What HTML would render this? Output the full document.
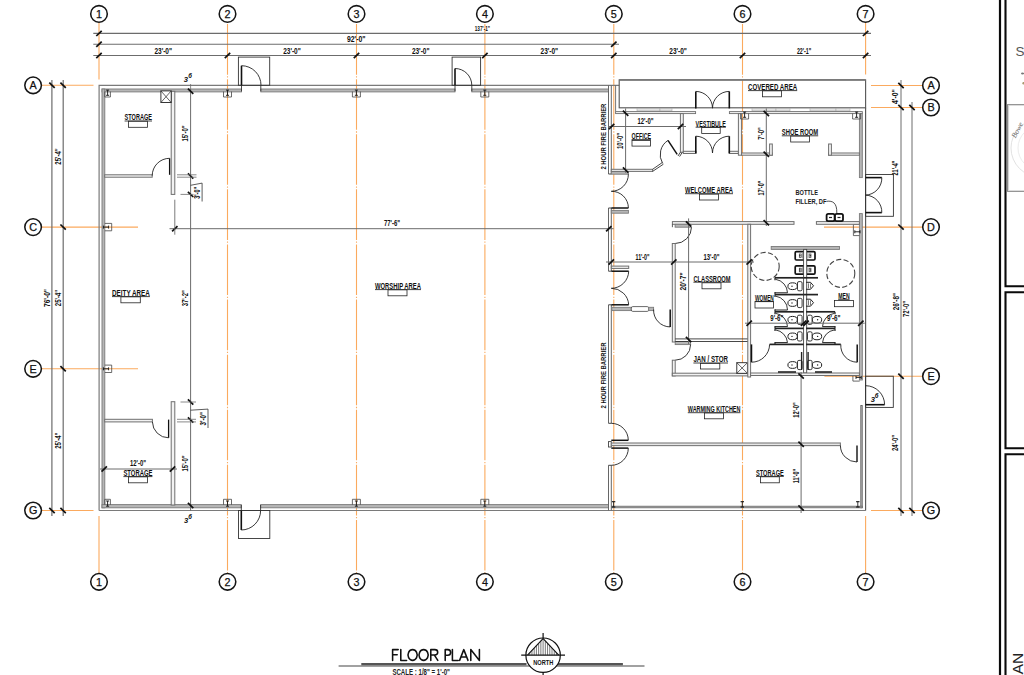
<!DOCTYPE html>
<html><head><meta charset="utf-8"><title>Floor Plan</title>
<style>
html,body{margin:0;padding:0;background:#fff;}
body{width:1024px;height:675px;overflow:hidden;}
svg{display:block;font-family:"Liberation Sans", sans-serif;}
</style></head>
<body>
<svg width="1024" height="675" viewBox="0 0 1024 675">
<rect x="0" y="0" width="1024" height="675" fill="#fff"/>
<line x1="99" y1="22.4" x2="99" y2="79.5" stroke="#fbaa5e" stroke-width="1.1"/>
<line x1="99" y1="516" x2="99" y2="573.3" stroke="#fbaa5e" stroke-width="1.1"/>
<line x1="227.5" y1="22.4" x2="227.5" y2="573.3" stroke="#fbaa5e" stroke-width="1.1" stroke-dasharray="50.6 1.6 1.3 1.6" stroke-dashoffset="53.45"/>
<line x1="356.5" y1="22.4" x2="356.5" y2="573.3" stroke="#fbaa5e" stroke-width="1.1" stroke-dasharray="50.6 1.6 1.3 1.6" stroke-dashoffset="53.45"/>
<line x1="484.9" y1="22.4" x2="484.9" y2="573.3" stroke="#fbaa5e" stroke-width="1.1" stroke-dasharray="50.6 1.6 1.3 1.6" stroke-dashoffset="53.45"/>
<line x1="613.8" y1="22.4" x2="613.8" y2="573.3" stroke="#fbaa5e" stroke-width="1.1" stroke-dasharray="50.6 1.6 1.3 1.6" stroke-dashoffset="53.45"/>
<line x1="742.5" y1="22.4" x2="742.5" y2="573.3" stroke="#fbaa5e" stroke-width="1.1" stroke-dasharray="50.6 1.6 1.3 1.6" stroke-dashoffset="53.45"/>
<line x1="865.6" y1="22.4" x2="865.6" y2="74.5" stroke="#fbaa5e" stroke-width="1.1"/>
<line x1="865.6" y1="516" x2="865.6" y2="573.3" stroke="#fbaa5e" stroke-width="1.1"/>
<line x1="42" y1="85.3" x2="93.5" y2="85.3" stroke="#fbaa5e" stroke-width="1.1"/>
<line x1="42" y1="227.1" x2="138" y2="227.1" stroke="#fbaa5e" stroke-width="1.1"/>
<line x1="42" y1="368.8" x2="138" y2="368.8" stroke="#fbaa5e" stroke-width="1.1"/>
<line x1="42" y1="510.5" x2="93.5" y2="510.5" stroke="#fbaa5e" stroke-width="1.1"/>
<line x1="871" y1="85.5" x2="922.7" y2="85.5" stroke="#fbaa5e" stroke-width="1.1"/>
<line x1="871" y1="107.5" x2="922.7" y2="107.5" stroke="#fbaa5e" stroke-width="1.1"/>
<line x1="824" y1="227.1" x2="922.7" y2="227.1" stroke="#fbaa5e" stroke-width="1.1"/>
<line x1="824.4" y1="376.2" x2="922.7" y2="376.2" stroke="#fbaa5e" stroke-width="1.1"/>
<line x1="871" y1="510.5" x2="922.7" y2="510.5" stroke="#fbaa5e" stroke-width="1.1"/>
<line x1="93.3" y1="33.4" x2="871" y2="33.4" stroke="#6c6c6c" stroke-width="1.1"/>
<line x1="93.3" y1="44.3" x2="619" y2="44.3" stroke="#6c6c6c" stroke-width="1.1"/>
<line x1="93.3" y1="55.5" x2="871" y2="55.5" stroke="#6c6c6c" stroke-width="1.1"/>
<line x1="96.3" y1="36" x2="101.7" y2="30.8" stroke="#111" stroke-width="1.7"/>
<line x1="862.9" y1="36" x2="868.3" y2="30.8" stroke="#111" stroke-width="1.7"/>
<line x1="96.3" y1="46.9" x2="101.7" y2="41.7" stroke="#111" stroke-width="1.7"/>
<line x1="611.1" y1="46.9" x2="616.5" y2="41.7" stroke="#111" stroke-width="1.7"/>
<line x1="96.3" y1="58.1" x2="101.7" y2="52.9" stroke="#111" stroke-width="1.7"/>
<line x1="224.8" y1="58.1" x2="230.2" y2="52.9" stroke="#111" stroke-width="1.7"/>
<line x1="353.8" y1="58.1" x2="359.2" y2="52.9" stroke="#111" stroke-width="1.7"/>
<line x1="482.2" y1="58.1" x2="487.6" y2="52.9" stroke="#111" stroke-width="1.7"/>
<line x1="611.1" y1="58.1" x2="616.5" y2="52.9" stroke="#111" stroke-width="1.7"/>
<line x1="739.8" y1="58.1" x2="745.2" y2="52.9" stroke="#111" stroke-width="1.7"/>
<line x1="862.9" y1="58.1" x2="868.3" y2="52.9" stroke="#111" stroke-width="1.7"/>
<text x="482.4" y="30.7" font-size="7.8" text-anchor="middle" fill="#111" font-weight="bold" textLength="15.4" lengthAdjust="spacingAndGlyphs">137'-1"</text>
<text x="356.3" y="42.4" font-size="8.4" text-anchor="middle" fill="#111" font-weight="bold" textLength="18.6" lengthAdjust="spacingAndGlyphs">92'-0"</text>
<text x="163.25" y="53.5" font-size="8.4" text-anchor="middle" fill="#111" font-weight="bold" textLength="17.6" lengthAdjust="spacingAndGlyphs">23'-0"</text>
<text x="292" y="53.5" font-size="8.4" text-anchor="middle" fill="#111" font-weight="bold" textLength="17.6" lengthAdjust="spacingAndGlyphs">23'-0"</text>
<text x="420.7" y="53.5" font-size="8.4" text-anchor="middle" fill="#111" font-weight="bold" textLength="17.6" lengthAdjust="spacingAndGlyphs">23'-0"</text>
<text x="549.35" y="53.5" font-size="8.4" text-anchor="middle" fill="#111" font-weight="bold" textLength="17.6" lengthAdjust="spacingAndGlyphs">23'-0"</text>
<text x="678.15" y="53.5" font-size="8.4" text-anchor="middle" fill="#111" font-weight="bold" textLength="17.6" lengthAdjust="spacingAndGlyphs">23'-0"</text>
<text x="804.1" y="53.5" font-size="8.4" text-anchor="middle" fill="#111" font-weight="bold" textLength="14.3" lengthAdjust="spacingAndGlyphs">22'-1"</text>
<line x1="51.9" y1="80" x2="51.9" y2="516" stroke="#6c6c6c" stroke-width="1.2"/>
<line x1="63.2" y1="80" x2="63.2" y2="516" stroke="#6c6c6c" stroke-width="1.2"/>
<line x1="49.3" y1="82.7" x2="54.7" y2="87.9" stroke="#111" stroke-width="1.7"/>
<line x1="49.3" y1="507.9" x2="54.7" y2="513.1" stroke="#111" stroke-width="1.7"/>
<line x1="60.4" y1="82.7" x2="65.8" y2="87.9" stroke="#111" stroke-width="1.7"/>
<line x1="60.4" y1="224.5" x2="65.8" y2="229.7" stroke="#111" stroke-width="1.7"/>
<line x1="60.4" y1="366.2" x2="65.8" y2="371.4" stroke="#111" stroke-width="1.7"/>
<line x1="60.4" y1="507.9" x2="65.8" y2="513.1" stroke="#111" stroke-width="1.7"/>
<text x="49.8" y="298" font-size="8.4" text-anchor="middle" fill="#111" font-weight="bold" textLength="18" lengthAdjust="spacingAndGlyphs" transform="rotate(-90 49.8 298)">76'-0"</text>
<text x="60.7" y="156.5" font-size="8.4" text-anchor="middle" fill="#111" font-weight="bold" textLength="16.3" lengthAdjust="spacingAndGlyphs" transform="rotate(-90 60.7 156.5)">25'-4"</text>
<text x="60.7" y="298" font-size="8.4" text-anchor="middle" fill="#111" font-weight="bold" textLength="16.3" lengthAdjust="spacingAndGlyphs" transform="rotate(-90 60.7 298)">25'-4"</text>
<text x="60.7" y="440.7" font-size="8.4" text-anchor="middle" fill="#111" font-weight="bold" textLength="16.3" lengthAdjust="spacingAndGlyphs" transform="rotate(-90 60.7 440.7)">25'-4"</text>
<line x1="901" y1="80" x2="901" y2="516" stroke="#6c6c6c" stroke-width="1"/>
<line x1="912" y1="102" x2="912" y2="516" stroke="#6c6c6c" stroke-width="1"/>
<line x1="898.3" y1="82.9" x2="903.7" y2="88.1" stroke="#111" stroke-width="1.7"/>
<line x1="898.3" y1="104.9" x2="903.7" y2="110.1" stroke="#111" stroke-width="1.7"/>
<line x1="898.3" y1="224.5" x2="903.7" y2="229.7" stroke="#111" stroke-width="1.7"/>
<line x1="898.3" y1="373.6" x2="903.7" y2="378.8" stroke="#111" stroke-width="1.7"/>
<line x1="898.3" y1="507.9" x2="903.7" y2="513.1" stroke="#111" stroke-width="1.7"/>
<line x1="909.3" y1="104.9" x2="914.7" y2="110.1" stroke="#111" stroke-width="1.7"/>
<line x1="909.3" y1="507.9" x2="914.7" y2="513.1" stroke="#111" stroke-width="1.7"/>
<text x="898.3" y="96.6" font-size="8.4" text-anchor="middle" fill="#111" font-weight="bold" textLength="14.8" lengthAdjust="spacingAndGlyphs" transform="rotate(-90 898.3 96.6)">4'-0"</text>
<text x="898.3" y="168" font-size="8.4" text-anchor="middle" fill="#111" font-weight="bold" textLength="15" lengthAdjust="spacingAndGlyphs" transform="rotate(-90 898.3 168)">21'-4"</text>
<text x="898.6" y="301.6" font-size="8.4" text-anchor="middle" fill="#111" font-weight="bold" textLength="17.2" lengthAdjust="spacingAndGlyphs" transform="rotate(-90 898.6 301.6)">26'-8"</text>
<text x="898.3" y="443" font-size="8.4" text-anchor="middle" fill="#111" font-weight="bold" textLength="16" lengthAdjust="spacingAndGlyphs" transform="rotate(-90 898.3 443)">24'-0"</text>
<text x="909.3" y="309" font-size="8.4" text-anchor="middle" fill="#111" font-weight="bold" textLength="16" lengthAdjust="spacingAndGlyphs" transform="rotate(-90 909.3 309)">72'-0"</text>
<circle cx="99" cy="13.9" r="8.3" fill="#fff" stroke="#151515" stroke-width="1.55"/>
<text x="99" y="17.8" font-size="10.8" text-anchor="middle" fill="#111" font-weight="normal" stroke="#111" stroke-width="0.25">1</text>
<circle cx="99" cy="581.8" r="8.3" fill="#fff" stroke="#151515" stroke-width="1.55"/>
<text x="99" y="585.7" font-size="10.8" text-anchor="middle" fill="#111" font-weight="normal" stroke="#111" stroke-width="0.25">1</text>
<circle cx="227.5" cy="13.9" r="8.3" fill="#fff" stroke="#151515" stroke-width="1.55"/>
<text x="227.5" y="17.8" font-size="10.8" text-anchor="middle" fill="#111" font-weight="normal" stroke="#111" stroke-width="0.25">2</text>
<circle cx="227.5" cy="581.8" r="8.3" fill="#fff" stroke="#151515" stroke-width="1.55"/>
<text x="227.5" y="585.7" font-size="10.8" text-anchor="middle" fill="#111" font-weight="normal" stroke="#111" stroke-width="0.25">2</text>
<circle cx="356.5" cy="13.9" r="8.3" fill="#fff" stroke="#151515" stroke-width="1.55"/>
<text x="356.5" y="17.8" font-size="10.8" text-anchor="middle" fill="#111" font-weight="normal" stroke="#111" stroke-width="0.25">3</text>
<circle cx="356.5" cy="581.8" r="8.3" fill="#fff" stroke="#151515" stroke-width="1.55"/>
<text x="356.5" y="585.7" font-size="10.8" text-anchor="middle" fill="#111" font-weight="normal" stroke="#111" stroke-width="0.25">3</text>
<circle cx="484.9" cy="13.9" r="8.3" fill="#fff" stroke="#151515" stroke-width="1.55"/>
<text x="484.9" y="17.8" font-size="10.8" text-anchor="middle" fill="#111" font-weight="normal" stroke="#111" stroke-width="0.25">4</text>
<circle cx="484.9" cy="581.8" r="8.3" fill="#fff" stroke="#151515" stroke-width="1.55"/>
<text x="484.9" y="585.7" font-size="10.8" text-anchor="middle" fill="#111" font-weight="normal" stroke="#111" stroke-width="0.25">4</text>
<circle cx="613.8" cy="13.9" r="8.3" fill="#fff" stroke="#151515" stroke-width="1.55"/>
<text x="613.8" y="17.8" font-size="10.8" text-anchor="middle" fill="#111" font-weight="normal" stroke="#111" stroke-width="0.25">5</text>
<circle cx="613.8" cy="581.8" r="8.3" fill="#fff" stroke="#151515" stroke-width="1.55"/>
<text x="613.8" y="585.7" font-size="10.8" text-anchor="middle" fill="#111" font-weight="normal" stroke="#111" stroke-width="0.25">5</text>
<circle cx="742.5" cy="13.9" r="8.3" fill="#fff" stroke="#151515" stroke-width="1.55"/>
<text x="742.5" y="17.8" font-size="10.8" text-anchor="middle" fill="#111" font-weight="normal" stroke="#111" stroke-width="0.25">6</text>
<circle cx="742.5" cy="581.8" r="8.3" fill="#fff" stroke="#151515" stroke-width="1.55"/>
<text x="742.5" y="585.7" font-size="10.8" text-anchor="middle" fill="#111" font-weight="normal" stroke="#111" stroke-width="0.25">6</text>
<circle cx="865.6" cy="13.9" r="8.3" fill="#fff" stroke="#151515" stroke-width="1.55"/>
<text x="865.6" y="17.8" font-size="10.8" text-anchor="middle" fill="#111" font-weight="normal" stroke="#111" stroke-width="0.25">7</text>
<circle cx="865.6" cy="581.8" r="8.3" fill="#fff" stroke="#151515" stroke-width="1.55"/>
<text x="865.6" y="585.7" font-size="10.8" text-anchor="middle" fill="#111" font-weight="normal" stroke="#111" stroke-width="0.25">7</text>
<circle cx="33.1" cy="85.3" r="8.3" fill="#fff" stroke="#151515" stroke-width="1.55"/>
<text x="33.1" y="89.2" font-size="10.8" text-anchor="middle" fill="#111" font-weight="normal" stroke="#111" stroke-width="0.25">A</text>
<circle cx="33.1" cy="227.1" r="8.3" fill="#fff" stroke="#151515" stroke-width="1.55"/>
<text x="33.1" y="231" font-size="10.8" text-anchor="middle" fill="#111" font-weight="normal" stroke="#111" stroke-width="0.25">C</text>
<circle cx="33.1" cy="368.8" r="8.3" fill="#fff" stroke="#151515" stroke-width="1.55"/>
<text x="33.1" y="372.7" font-size="10.8" text-anchor="middle" fill="#111" font-weight="normal" stroke="#111" stroke-width="0.25">E</text>
<circle cx="33.1" cy="510.5" r="8.3" fill="#fff" stroke="#151515" stroke-width="1.55"/>
<text x="33.1" y="514.4" font-size="10.8" text-anchor="middle" fill="#111" font-weight="normal" stroke="#111" stroke-width="0.25">G</text>
<circle cx="931" cy="85.5" r="8.3" fill="#fff" stroke="#151515" stroke-width="1.55"/>
<text x="931" y="89.4" font-size="10.8" text-anchor="middle" fill="#111" font-weight="normal" stroke="#111" stroke-width="0.25">A</text>
<circle cx="931" cy="107.5" r="8.3" fill="#fff" stroke="#151515" stroke-width="1.55"/>
<text x="931" y="111.4" font-size="10.8" text-anchor="middle" fill="#111" font-weight="normal" stroke="#111" stroke-width="0.25">B</text>
<circle cx="931" cy="227.1" r="8.3" fill="#fff" stroke="#151515" stroke-width="1.55"/>
<text x="931" y="231" font-size="10.8" text-anchor="middle" fill="#111" font-weight="normal" stroke="#111" stroke-width="0.25">D</text>
<circle cx="931" cy="376.2" r="8.3" fill="#fff" stroke="#151515" stroke-width="1.55"/>
<text x="931" y="380.1" font-size="10.8" text-anchor="middle" fill="#111" font-weight="normal" stroke="#111" stroke-width="0.25">E</text>
<circle cx="931" cy="510.5" r="8.3" fill="#fff" stroke="#151515" stroke-width="1.55"/>
<text x="931" y="514.4" font-size="10.8" text-anchor="middle" fill="#111" font-weight="normal" stroke="#111" stroke-width="0.25">G</text>
<polyline points="99.1,510.5 99.1,85.35 619.2,85.35" fill="none" stroke="#7a7a7a" stroke-width="1.2"/>
<line x1="99.1" y1="510.5" x2="865.6" y2="510.5" stroke="#7a7a7a" stroke-width="1.2"/>
<rect x="102" y="89" width="139.5" height="2.9" fill="#b6b6b6" stroke="#7a7a7a" stroke-width="0.9"/>
<rect x="260.8" y="89" width="194.2" height="2.9" fill="#b6b6b6" stroke="#7a7a7a" stroke-width="0.9"/>
<rect x="471.8" y="89" width="136.7" height="2.9" fill="#b6b6b6" stroke="#7a7a7a" stroke-width="0.9"/>
<rect x="102" y="89" width="2.8" height="418.8" fill="#b6b6b6" stroke="#7a7a7a" stroke-width="0.9"/>
<rect x="102" y="504.6" width="139.3" height="3.2" fill="#b6b6b6" stroke="#7a7a7a" stroke-width="0.9"/>
<rect x="260.6" y="504.6" width="347.9" height="3.2" fill="#b6b6b6" stroke="#7a7a7a" stroke-width="0.9"/>
<line x1="241.5" y1="85.3" x2="241.5" y2="91.3" stroke="#333" stroke-width="0.9"/>
<line x1="260.8" y1="85.3" x2="260.8" y2="91.3" stroke="#333" stroke-width="0.9"/>
<line x1="455" y1="85.3" x2="455" y2="91.3" stroke="#333" stroke-width="0.9"/>
<line x1="471.8" y1="85.3" x2="471.8" y2="91.3" stroke="#333" stroke-width="0.9"/>
<line x1="241.3" y1="505" x2="241.3" y2="510.5" stroke="#333" stroke-width="0.9"/>
<line x1="260.6" y1="505" x2="260.6" y2="510.5" stroke="#333" stroke-width="0.9"/>
<rect x="238.4" y="57.1" width="31.3" height="28.2" fill="none" stroke="#333" stroke-width="0.9"/>
<line x1="241.5" y1="85.3" x2="241.5" y2="65.7" stroke="#111" stroke-width="1.6"/>
<path d="M241.5,65.7 A19.5,19.5 0 0 1 261,85.3" fill="none" stroke="#222" stroke-width="0.9"/>
<rect x="452.1" y="57.1" width="28.5" height="28.2" fill="none" stroke="#333" stroke-width="0.9"/>
<line x1="455" y1="85.3" x2="455" y2="68.5" stroke="#111" stroke-width="1.6"/>
<path d="M455,68.5 A16.8,16.8 0 0 1 471.8,85.3" fill="none" stroke="#222" stroke-width="0.9"/>
<rect x="238.5" y="510.5" width="31.3" height="28" fill="none" stroke="#333" stroke-width="0.9"/>
<line x1="241.3" y1="510.5" x2="241.3" y2="530" stroke="#111" stroke-width="1.6"/>
<path d="M241.3,530 A19.4,19.4 0 0 0 260.6,510.5" fill="none" stroke="#222" stroke-width="0.9"/>
<polyline points="104.8,91.6 104.8,97 110.4,97 110.4,91.6" fill="none" stroke="#444" stroke-width="0.8"/>
<line x1="106.1" y1="90.1" x2="109.1" y2="90.1" stroke="#111" stroke-width="0.9"/>
<line x1="107.6" y1="90.1" x2="107.6" y2="95.3" stroke="#111" stroke-width="0.9"/>
<line x1="106.1" y1="95.3" x2="109.1" y2="95.3" stroke="#111" stroke-width="0.9"/>
<polyline points="104.8,504.7 104.8,499.3 110.4,499.3 110.4,504.7" fill="none" stroke="#444" stroke-width="0.8"/>
<line x1="106.1" y1="501" x2="109.1" y2="501" stroke="#111" stroke-width="0.9"/>
<line x1="107.6" y1="501" x2="107.6" y2="506.2" stroke="#111" stroke-width="0.9"/>
<line x1="106.1" y1="506.2" x2="109.1" y2="506.2" stroke="#111" stroke-width="0.9"/>
<polyline points="223.5,91.6 223.5,97 231.5,97 231.5,91.6" fill="none" stroke="#444" stroke-width="0.8"/>
<line x1="226" y1="90.1" x2="229" y2="90.1" stroke="#111" stroke-width="0.9"/>
<line x1="227.5" y1="90.1" x2="227.5" y2="95.3" stroke="#111" stroke-width="0.9"/>
<line x1="226" y1="95.3" x2="229" y2="95.3" stroke="#111" stroke-width="0.9"/>
<polyline points="352.4,91.6 352.4,97 360.4,97 360.4,91.6" fill="none" stroke="#444" stroke-width="0.8"/>
<line x1="354.9" y1="90.1" x2="357.9" y2="90.1" stroke="#111" stroke-width="0.9"/>
<line x1="356.4" y1="90.1" x2="356.4" y2="95.3" stroke="#111" stroke-width="0.9"/>
<line x1="354.9" y1="95.3" x2="357.9" y2="95.3" stroke="#111" stroke-width="0.9"/>
<polyline points="480.8,91.6 480.8,97 488.8,97 488.8,91.6" fill="none" stroke="#444" stroke-width="0.8"/>
<line x1="483.3" y1="90.1" x2="486.3" y2="90.1" stroke="#111" stroke-width="0.9"/>
<line x1="484.8" y1="90.1" x2="484.8" y2="95.3" stroke="#111" stroke-width="0.9"/>
<line x1="483.3" y1="95.3" x2="486.3" y2="95.3" stroke="#111" stroke-width="0.9"/>
<polyline points="223.5,504.7 223.5,499.3 231.5,499.3 231.5,504.7" fill="none" stroke="#444" stroke-width="0.8"/>
<line x1="226" y1="501" x2="229" y2="501" stroke="#111" stroke-width="0.9"/>
<line x1="227.5" y1="501" x2="227.5" y2="506.2" stroke="#111" stroke-width="0.9"/>
<line x1="226" y1="506.2" x2="229" y2="506.2" stroke="#111" stroke-width="0.9"/>
<polyline points="352.4,504.7 352.4,499.3 360.4,499.3 360.4,504.7" fill="none" stroke="#444" stroke-width="0.8"/>
<line x1="354.9" y1="501" x2="357.9" y2="501" stroke="#111" stroke-width="0.9"/>
<line x1="356.4" y1="501" x2="356.4" y2="506.2" stroke="#111" stroke-width="0.9"/>
<line x1="354.9" y1="506.2" x2="357.9" y2="506.2" stroke="#111" stroke-width="0.9"/>
<polyline points="480.8,504.7 480.8,499.3 488.8,499.3 488.8,504.7" fill="none" stroke="#444" stroke-width="0.8"/>
<line x1="483.3" y1="501" x2="486.3" y2="501" stroke="#111" stroke-width="0.9"/>
<line x1="484.8" y1="501" x2="484.8" y2="506.2" stroke="#111" stroke-width="0.9"/>
<line x1="483.3" y1="506.2" x2="486.3" y2="506.2" stroke="#111" stroke-width="0.9"/>
<polyline points="104.9,223.4 111.7,223.4 111.7,230.8 104.9,230.8" fill="none" stroke="#444" stroke-width="0.8"/>
<line x1="103.4" y1="225.6" x2="103.4" y2="228.6" stroke="#111" stroke-width="0.9"/>
<line x1="103.4" y1="227.1" x2="108.6" y2="227.1" stroke="#111" stroke-width="0.9"/>
<line x1="108.6" y1="225.6" x2="108.6" y2="228.6" stroke="#111" stroke-width="0.9"/>
<polyline points="104.9,365.1 111.7,365.1 111.7,372.5 104.9,372.5" fill="none" stroke="#444" stroke-width="0.8"/>
<line x1="103.4" y1="367.3" x2="103.4" y2="370.3" stroke="#111" stroke-width="0.9"/>
<line x1="103.4" y1="368.8" x2="108.6" y2="368.8" stroke="#111" stroke-width="0.9"/>
<line x1="108.6" y1="367.3" x2="108.6" y2="370.3" stroke="#111" stroke-width="0.9"/>
<rect x="171.2" y="91.3" width="3.6" height="103.1" fill="#f2f2f2" stroke="#6e6e6e" stroke-width="1"/>
<rect x="104.7" y="174.8" width="47.5" height="2.4" fill="#f2f2f2" stroke="#6e6e6e" stroke-width="1"/>
<line x1="169.6" y1="158.3" x2="169.6" y2="174.8" stroke="#111" stroke-width="1.3"/>
<path d="M152.2,175.6 A17.4,17.4 0 0 1 169.6,158.3" fill="none" stroke="#222" stroke-width="0.9"/>
<rect x="160.9" y="90.9" width="10.3" height="11.6" fill="#fff" stroke="#222" stroke-width="0.9"/>
<line x1="160.9" y1="90.9" x2="171.2" y2="102.5" stroke="#222" stroke-width="0.7"/>
<line x1="160.9" y1="102.5" x2="171.2" y2="90.9" stroke="#222" stroke-width="0.7"/>
<rect x="171.2" y="401.7" width="3.6" height="103.3" fill="#f2f2f2" stroke="#6e6e6e" stroke-width="1"/>
<rect x="104.7" y="419.3" width="47.7" height="2.6" fill="#f2f2f2" stroke="#6e6e6e" stroke-width="1"/>
<line x1="168.6" y1="419.6" x2="168.6" y2="437.8" stroke="#111" stroke-width="1.3"/>
<path d="M152.4,421.9 A16.2,16.2 0 0 0 168.6,437.8" fill="none" stroke="#222" stroke-width="0.9"/>
<line x1="608.5" y1="85.35" x2="608.5" y2="174" stroke="#666" stroke-width="1"/>
<line x1="608.5" y1="208" x2="608.5" y2="271.2" stroke="#666" stroke-width="1"/>
<line x1="608.5" y1="304.8" x2="608.5" y2="423.3" stroke="#666" stroke-width="1"/>
<line x1="608.5" y1="465.3" x2="608.5" y2="510.5" stroke="#666" stroke-width="1"/>
<line x1="611.3" y1="85.35" x2="611.3" y2="174" stroke="#666" stroke-width="1"/>
<line x1="611.3" y1="208" x2="611.3" y2="271.2" stroke="#666" stroke-width="1"/>
<line x1="611.3" y1="304.8" x2="611.3" y2="423.3" stroke="#666" stroke-width="1"/>
<line x1="611.3" y1="465.3" x2="611.3" y2="510.5" stroke="#666" stroke-width="1"/>
<line x1="608.5" y1="174" x2="611.3" y2="174" stroke="#444" stroke-width="1"/>
<line x1="608.5" y1="208" x2="611.3" y2="208" stroke="#444" stroke-width="1"/>
<line x1="608.5" y1="271.2" x2="611.3" y2="271.2" stroke="#444" stroke-width="1"/>
<line x1="608.5" y1="304.8" x2="611.3" y2="304.8" stroke="#444" stroke-width="1"/>
<line x1="608.5" y1="423.3" x2="611.3" y2="423.3" stroke="#444" stroke-width="1"/>
<line x1="608.5" y1="465.3" x2="611.3" y2="465.3" stroke="#444" stroke-width="1"/>
<line x1="615.6" y1="85.35" x2="615.6" y2="111.7" stroke="#666" stroke-width="0.9"/>
<rect x="611.3" y="171.6" width="17.1" height="2.6" fill="#b6b6b6" stroke="#7a7a7a" stroke-width="0.9"/>
<path d="M628.4,174.2 A17.1,17.1 0 0 1 611.3,191.3" fill="none" stroke="#222" stroke-width="0.9"/>
<line x1="611.3" y1="208" x2="628.4" y2="208" stroke="#111" stroke-width="1.5"/>
<path d="M628.4,208 A16.7,16.7 0 0 0 611.3,191.3" fill="none" stroke="#222" stroke-width="0.9"/>
<rect x="611.3" y="210.4" width="17.1" height="2.8" fill="#b6b6b6" stroke="#7a7a7a" stroke-width="0.9"/>
<rect x="611.3" y="266.1" width="17.4" height="2.3" fill="#f2f2f2" stroke="#6e6e6e" stroke-width="1"/>
<line x1="611.3" y1="271.2" x2="628.7" y2="271.2" stroke="#111" stroke-width="1.5"/>
<path d="M628.7,271.2 A17.4,17.4 0 0 1 611.3,288.3" fill="none" stroke="#222" stroke-width="0.9"/>
<line x1="611.3" y1="304.8" x2="628.7" y2="304.8" stroke="#111" stroke-width="1.5"/>
<path d="M628.7,304.8 A17.4,17.4 0 0 0 611.3,288.3" fill="none" stroke="#222" stroke-width="0.9"/>
<path d="M611.3,423.3 A17,17 0 0 1 628.3,440.3" fill="none" stroke="#222" stroke-width="0.9"/>
<line x1="611.3" y1="440.3" x2="628.3" y2="440.3" stroke="#111" stroke-width="1.5"/>
<line x1="611.3" y1="448.1" x2="628.3" y2="448.1" stroke="#111" stroke-width="1.5"/>
<path d="M628.3,448.1 A17.1,17.1 0 0 1 611.3,465.3" fill="none" stroke="#222" stroke-width="0.9"/>
<rect x="608.5" y="441.6" width="2.8" height="5.4" fill="#fff" stroke="#444" stroke-width="0.9"/>
<rect x="619.2" y="79.9" width="246.4" height="27.9" fill="none" stroke="#5a5a5a" stroke-width="1.15"/>
<line x1="619.2" y1="79.9" x2="865.6" y2="79.9" stroke="#7a7a7a" stroke-width="1.7"/>
<line x1="865.6" y1="107.7" x2="865.6" y2="510.5" stroke="#555" stroke-width="1.15"/>
<rect x="637" y="108.5" width="23" height="2.4" fill="#e4e4e4" stroke="#aaa" stroke-width="0.6"/>
<rect x="660" y="108.5" width="12" height="2.4" fill="#e4e4e4" stroke="#aaa" stroke-width="0.6"/>
<rect x="752" y="108.5" width="24" height="2.4" fill="#e4e4e4" stroke="#aaa" stroke-width="0.6"/>
<rect x="776" y="108.5" width="14" height="2.4" fill="#e4e4e4" stroke="#aaa" stroke-width="0.6"/>
<rect x="810" y="108.5" width="26" height="2.4" fill="#e4e4e4" stroke="#aaa" stroke-width="0.6"/>
<rect x="836" y="108.5" width="14" height="2.4" fill="#e4e4e4" stroke="#aaa" stroke-width="0.6"/>
<rect x="615.6" y="111.6" width="80" height="2" fill="#f2f2f2" stroke="#6e6e6e" stroke-width="0.9"/>
<rect x="729.4" y="111.6" width="132.9" height="2" fill="#f2f2f2" stroke="#6e6e6e" stroke-width="0.9"/>
<rect x="859.4" y="113.6" width="2.9" height="64" fill="#b6b6b6" stroke="#7a7a7a" stroke-width="0.9"/>
<rect x="859.4" y="213.6" width="2.9" height="166.4" fill="#b6b6b6" stroke="#7a7a7a" stroke-width="0.9"/>
<rect x="860.7" y="405.5" width="1.7" height="102.4" fill="#999" stroke="#666" stroke-width="0.6"/>
<rect x="611.3" y="506.1" width="251" height="1.8" fill="#999" stroke="#666" stroke-width="0.6"/>
<rect x="680.4" y="113.6" width="2.9" height="38.6" fill="#f2f2f2" stroke="#6e6e6e" stroke-width="1"/>
<line x1="680.4" y1="152.2" x2="678" y2="156" stroke="#333" stroke-width="0.9"/>
<line x1="682.3" y1="152.2" x2="679.6" y2="156.6" stroke="#333" stroke-width="0.9"/>
<rect x="611.3" y="169.3" width="41.3" height="2.1" fill="#f2f2f2" stroke="#6e6e6e" stroke-width="1"/>
<polyline points="652.6,169.3 662.2,162.6" fill="none" stroke="#333" stroke-width="0.9"/>
<polyline points="652.6,171.4 663.4,164.2" fill="none" stroke="#333" stroke-width="0.9"/>
<line x1="668" y1="140.4" x2="677.2" y2="154.4" stroke="#111" stroke-width="1.5"/>
<path d="M668,140.4 A17,17 0 0 0 662.6,163.4" fill="none" stroke="#222" stroke-width="0.9"/>
<rect x="683.3" y="151.3" width="12.7" height="2.2" fill="#f2f2f2" stroke="#6e6e6e" stroke-width="1"/>
<rect x="729.3" y="151.3" width="9.1" height="2.2" fill="#f2f2f2" stroke="#6e6e6e" stroke-width="1"/>
<rect x="738.4" y="113.6" width="3.2" height="41.6" fill="#f2f2f2" stroke="#6e6e6e" stroke-width="1"/>
<line x1="695.8" y1="108.4" x2="695.8" y2="91.4" stroke="#111" stroke-width="1.6"/>
<line x1="695.8" y1="153.3" x2="695.8" y2="136.2" stroke="#111" stroke-width="1.6"/>
<line x1="729.3" y1="108.4" x2="729.3" y2="91.4" stroke="#111" stroke-width="1.6"/>
<line x1="729.3" y1="153.3" x2="729.3" y2="136.2" stroke="#111" stroke-width="1.6"/>
<path d="M695.8,91.4 A16.8,16.8 0 0 1 712.5,108.2" fill="none" stroke="#222" stroke-width="0.9"/>
<path d="M729.3,91.4 A16.8,16.8 0 0 0 712.5,108.2" fill="none" stroke="#222" stroke-width="0.9"/>
<path d="M695.8,136.2 A16.8,16.8 0 0 1 712.5,153" fill="none" stroke="#222" stroke-width="0.9"/>
<path d="M729.3,136.2 A16.8,16.8 0 0 0 712.5,153" fill="none" stroke="#222" stroke-width="0.9"/>
<rect x="741.6" y="153" width="30.7" height="2.2" fill="#f2f2f2" stroke="#6e6e6e" stroke-width="1"/>
<rect x="769.6" y="144" width="2.7" height="11.2" fill="#f2f2f2" stroke="#6e6e6e" stroke-width="1"/>
<rect x="828.6" y="153" width="30.8" height="2.2" fill="#f2f2f2" stroke="#6e6e6e" stroke-width="1"/>
<rect x="828.6" y="144" width="2.8" height="11.2" fill="#f2f2f2" stroke="#6e6e6e" stroke-width="1"/>
<polyline points="740.6,113.6 740.6,119 748.6,119 748.6,113.6" fill="none" stroke="#444" stroke-width="0.8"/>
<line x1="743.1" y1="112.1" x2="746.1" y2="112.1" stroke="#111" stroke-width="0.9"/>
<line x1="744.6" y1="112.1" x2="744.6" y2="117.3" stroke="#111" stroke-width="0.9"/>
<line x1="743.1" y1="117.3" x2="746.1" y2="117.3" stroke="#111" stroke-width="0.9"/>
<polyline points="852.6,113.6 852.6,119 860.6,119 860.6,113.6" fill="none" stroke="#444" stroke-width="0.8"/>
<line x1="855.1" y1="112.1" x2="858.1" y2="112.1" stroke="#111" stroke-width="0.9"/>
<line x1="856.6" y1="112.1" x2="856.6" y2="117.3" stroke="#111" stroke-width="0.9"/>
<line x1="855.1" y1="117.3" x2="858.1" y2="117.3" stroke="#111" stroke-width="0.9"/>
<polyline points="859.4,224.3 853.4,224.3 853.4,235.6 859.4,235.6" fill="none" stroke="#444" stroke-width="0.8"/>
<line x1="854.8" y1="230.3" x2="854.8" y2="233.3" stroke="#111" stroke-width="0.9"/>
<line x1="854.8" y1="231.8" x2="860" y2="231.8" stroke="#111" stroke-width="0.9"/>
<line x1="860" y1="230.3" x2="860" y2="233.3" stroke="#111" stroke-width="0.9"/>
<polyline points="859.7,373.7 852.9,373.7 852.9,381.1 859.7,381.1" fill="none" stroke="#444" stroke-width="0.8"/>
<line x1="856" y1="375.9" x2="856" y2="378.9" stroke="#111" stroke-width="0.9"/>
<line x1="856" y1="377.4" x2="861.2" y2="377.4" stroke="#111" stroke-width="0.9"/>
<line x1="861.2" y1="375.9" x2="861.2" y2="378.9" stroke="#111" stroke-width="0.9"/>
<rect x="672.4" y="221.6" width="121.6" height="2.7" fill="#f2f2f2" stroke="#6e6e6e" stroke-width="1"/>
<rect x="675.1" y="224.3" width="15.6" height="2.9" fill="#b6b6b6" stroke="#7a7a7a" stroke-width="0.9"/>
<line x1="672.4" y1="224.3" x2="672.4" y2="227.2" stroke="#333" stroke-width="0.8"/>
<path d="M691.5,227.2 A16.4,16.4 0 0 1 675.1,243.5" fill="none" stroke="#222" stroke-width="0.9"/>
<rect x="816.4" y="221.6" width="43" height="2.7" fill="#f2f2f2" stroke="#6e6e6e" stroke-width="1"/>
<rect x="672.3" y="243.5" width="2.9" height="98.5" fill="#f2f2f2" stroke="#6e6e6e" stroke-width="1"/>
<line x1="675.2" y1="338.9" x2="748" y2="338.9" stroke="#333" stroke-width="0.9"/>
<rect x="675.2" y="341.5" width="15.4" height="3.1" fill="#b6b6b6" stroke="#7a7a7a" stroke-width="0.9"/>
<line x1="675.2" y1="341.5" x2="748" y2="341.5" stroke="#333" stroke-width="0.9"/>
<path d="M690.6,344.6 A15.6,15.6 0 0 1 675.2,360.2" fill="none" stroke="#222" stroke-width="0.9"/>
<rect x="672.3" y="360.2" width="2.9" height="15.7" fill="#f2f2f2" stroke="#6e6e6e" stroke-width="1"/>
<rect x="672.3" y="373.2" width="75.7" height="2.7" fill="#f2f2f2" stroke="#6e6e6e" stroke-width="1"/>
<rect x="736.8" y="362.7" width="10.6" height="10.6" fill="#fff" stroke="#222" stroke-width="0.9"/>
<line x1="736.8" y1="362.7" x2="747.4" y2="373.3" stroke="#222" stroke-width="0.7"/>
<line x1="736.8" y1="373.3" x2="747.4" y2="362.7" stroke="#222" stroke-width="0.7"/>
<rect x="611.8" y="307.3" width="19.5" height="3.3" fill="#b6b6b6" stroke="#7a7a7a" stroke-width="0.9"/>
<rect x="631.3" y="306.6" width="17.4" height="4.8" fill="#fff" stroke="#444" stroke-width="0.8" rx="1.5"/>
<rect x="648.7" y="307.3" width="4.9" height="3.3" fill="#b6b6b6" stroke="#7a7a7a" stroke-width="0.9"/>
<path d="M653.6,309.5 A16.6,16.6 0 0 0 670.2,326.9" fill="none" stroke="#222" stroke-width="0.9"/>
<line x1="670.2" y1="309.5" x2="670.2" y2="326.9" stroke="#111" stroke-width="1.5"/>
<rect x="747.8" y="224.3" width="2.8" height="152.7" fill="#f2f2f2" stroke="#6e6e6e" stroke-width="1"/>
<rect x="771.2" y="246.5" width="68.3" height="2.9" fill="#b6b6b6" stroke="#7a7a7a" stroke-width="0.9"/>
<rect x="803.6" y="249.4" width="3.1" height="123.6" fill="#fff" stroke="#444" stroke-width="0.9"/>
<rect x="750.6" y="373" width="108.8" height="2.5" fill="#f2f2f2" stroke="#6e6e6e" stroke-width="1"/>
<rect x="611.3" y="443" width="229.1" height="2.6" fill="#e6e6e6" stroke="#7a7a7a" stroke-width="1.1"/>
<line x1="857" y1="445.6" x2="857" y2="462" stroke="#111" stroke-width="1.4"/>
<path d="M840.4,445.6 A16.6,16.6 0 0 0 857,462" fill="none" stroke="#222" stroke-width="0.9"/>
<rect x="865.6" y="174.5" width="27.8" height="41.8" fill="none" stroke="#333" stroke-width="0.9"/>
<line x1="865.6" y1="177.6" x2="881.8" y2="177.6" stroke="#111" stroke-width="1.6"/>
<line x1="865.6" y1="212.6" x2="881.8" y2="212.6" stroke="#111" stroke-width="1.6"/>
<path d="M881.8,177.6 A16.9,16.9 0 0 1 865.6,195.1" fill="none" stroke="#222" stroke-width="0.9"/>
<path d="M881.8,212.6 A16.9,16.9 0 0 0 865.6,195.1" fill="none" stroke="#222" stroke-width="0.9"/>
<rect x="865.6" y="376.2" width="27.7" height="31.2" fill="none" stroke="#333" stroke-width="0.9"/>
<line x1="865.6" y1="404.7" x2="884.6" y2="404.7" stroke="#111" stroke-width="1.6"/>
<path d="M865.6,385.7 A19,19 0 0 1 884.6,404.7" fill="none" stroke="#222" stroke-width="0.9"/>
<line x1="611.9" y1="501.7" x2="615.3" y2="501.7" stroke="#111" stroke-width="1.1"/>
<line x1="613.6" y1="501.7" x2="613.6" y2="507" stroke="#222" stroke-width="0.9"/>
<line x1="611.9" y1="507" x2="615.3" y2="507" stroke="#111" stroke-width="1.1"/>
<line x1="740.6" y1="501.7" x2="744" y2="501.7" stroke="#111" stroke-width="1.1"/>
<line x1="742.3" y1="501.7" x2="742.3" y2="507" stroke="#222" stroke-width="0.9"/>
<line x1="740.6" y1="507" x2="744" y2="507" stroke="#111" stroke-width="1.1"/>
<line x1="856.1" y1="501.7" x2="859.5" y2="501.7" stroke="#111" stroke-width="1.1"/>
<line x1="857.8" y1="501.7" x2="857.8" y2="507" stroke="#222" stroke-width="0.9"/>
<line x1="856.1" y1="507" x2="859.5" y2="507" stroke="#111" stroke-width="1.1"/>
<ellipse cx="792.6" cy="286.2" rx="4.7" ry="3.4" fill="#fff" stroke="#222" stroke-width="1.0"/>
<circle cx="792" cy="286.2" r="0.7" fill="#222"/>
<rect x="797.5" y="281.6" width="4.6" height="9.2" fill="#fff" stroke="#222" stroke-width="0.9" rx="1.4"/>
<ellipse cx="792.6" cy="303" rx="4.7" ry="3.4" fill="#fff" stroke="#222" stroke-width="1.0"/>
<circle cx="792" cy="303" r="0.7" fill="#222"/>
<rect x="797.5" y="298.4" width="4.6" height="9.2" fill="#fff" stroke="#222" stroke-width="0.9" rx="1.4"/>
<ellipse cx="792.6" cy="319.8" rx="4.7" ry="3.4" fill="#fff" stroke="#222" stroke-width="1.0"/>
<circle cx="792" cy="319.8" r="0.7" fill="#222"/>
<rect x="797.5" y="315.2" width="4.6" height="9.2" fill="#fff" stroke="#222" stroke-width="0.9" rx="1.4"/>
<ellipse cx="792.6" cy="336.4" rx="4.7" ry="3.4" fill="#fff" stroke="#222" stroke-width="1.0"/>
<circle cx="792" cy="336.4" r="0.7" fill="#222"/>
<rect x="797.5" y="331.8" width="4.6" height="9.2" fill="#fff" stroke="#222" stroke-width="0.9" rx="1.4"/>
<ellipse cx="792.6" cy="365" rx="4.7" ry="3.4" fill="#fff" stroke="#222" stroke-width="1.0"/>
<circle cx="792" cy="365" r="0.7" fill="#222"/>
<rect x="797.5" y="360.4" width="4.6" height="9.2" fill="#fff" stroke="#222" stroke-width="0.9" rx="1.4"/>
<ellipse cx="817" cy="319.8" rx="4.7" ry="3.4" fill="#fff" stroke="#222" stroke-width="1.0"/>
<circle cx="817.6" cy="319.8" r="0.7" fill="#222"/>
<rect x="807.5" y="315.2" width="4.6" height="9.2" fill="#fff" stroke="#222" stroke-width="0.9" rx="1.4"/>
<ellipse cx="817" cy="336.4" rx="4.7" ry="3.4" fill="#fff" stroke="#222" stroke-width="1.0"/>
<circle cx="817.6" cy="336.4" r="0.7" fill="#222"/>
<rect x="807.5" y="331.8" width="4.6" height="9.2" fill="#fff" stroke="#222" stroke-width="0.9" rx="1.4"/>
<ellipse cx="817" cy="365" rx="4.7" ry="3.4" fill="#fff" stroke="#222" stroke-width="1.0"/>
<circle cx="817.6" cy="365" r="0.7" fill="#222"/>
<rect x="807.5" y="360.4" width="4.6" height="9.2" fill="#fff" stroke="#222" stroke-width="0.9" rx="1.4"/>
<line x1="775" y1="277.8" x2="803.6" y2="277.8" stroke="#222" stroke-width="1.7"/>
<line x1="775" y1="294.6" x2="803.6" y2="294.6" stroke="#222" stroke-width="1.7"/>
<line x1="775" y1="311.8" x2="803.6" y2="311.8" stroke="#222" stroke-width="1.7"/>
<line x1="775" y1="328.4" x2="803.6" y2="328.4" stroke="#222" stroke-width="1.7"/>
<line x1="775" y1="344.4" x2="803.6" y2="344.4" stroke="#222" stroke-width="1.7"/>
<line x1="769.6" y1="344.4" x2="775" y2="344.4" stroke="#222" stroke-width="1.7"/>
<line x1="806.1" y1="311.8" x2="835" y2="311.8" stroke="#222" stroke-width="1.7"/>
<line x1="806.1" y1="328.4" x2="835" y2="328.4" stroke="#222" stroke-width="1.7"/>
<line x1="806.1" y1="344.4" x2="835" y2="344.4" stroke="#222" stroke-width="1.7"/>
<line x1="835" y1="344.4" x2="840.8" y2="344.4" stroke="#222" stroke-width="1.7"/>
<line x1="803.6" y1="277.8" x2="818" y2="277.8" stroke="#222" stroke-width="1.7"/>
<line x1="803.6" y1="294.6" x2="818" y2="294.6" stroke="#222" stroke-width="1.7"/>
<line x1="775" y1="277.8" x2="775" y2="280.3" stroke="#222" stroke-width="1.2"/>
<line x1="775" y1="292.1" x2="775" y2="294.6" stroke="#222" stroke-width="1.2"/>
<path d="M775.5,279.3 A14,14 0 0 1 787.5,292.8" fill="none" stroke="#222" stroke-width="0.9"/>
<line x1="775" y1="292.8" x2="787.5" y2="292.8" stroke="#222" stroke-width="1"/>
<line x1="775" y1="294.6" x2="775" y2="297.1" stroke="#222" stroke-width="1.2"/>
<line x1="775" y1="309.3" x2="775" y2="311.8" stroke="#222" stroke-width="1.2"/>
<path d="M775.5,296.1 A14,14 0 0 1 787.5,310" fill="none" stroke="#222" stroke-width="0.9"/>
<line x1="775" y1="310" x2="787.5" y2="310" stroke="#222" stroke-width="1"/>
<line x1="775" y1="311.8" x2="775" y2="314.3" stroke="#222" stroke-width="1.2"/>
<line x1="775" y1="325.9" x2="775" y2="328.4" stroke="#222" stroke-width="1.2"/>
<path d="M775.5,313.3 A14,14 0 0 1 787.5,326.6" fill="none" stroke="#222" stroke-width="0.9"/>
<line x1="775" y1="326.6" x2="787.5" y2="326.6" stroke="#222" stroke-width="1"/>
<line x1="775" y1="328.4" x2="775" y2="330.9" stroke="#222" stroke-width="1.2"/>
<line x1="775" y1="341.9" x2="775" y2="344.4" stroke="#222" stroke-width="1.2"/>
<path d="M775.5,329.9 A14,14 0 0 1 787.5,342.6" fill="none" stroke="#222" stroke-width="0.9"/>
<line x1="775" y1="342.6" x2="787.5" y2="342.6" stroke="#222" stroke-width="1"/>
<line x1="835" y1="311.8" x2="835" y2="314.3" stroke="#222" stroke-width="1.2"/>
<line x1="835" y1="325.9" x2="835" y2="328.4" stroke="#222" stroke-width="1.2"/>
<path d="M834.5,313.3 A14,14 0 0 0 822.5,326.6" fill="none" stroke="#222" stroke-width="0.9"/>
<line x1="835" y1="326.6" x2="822.5" y2="326.6" stroke="#222" stroke-width="1"/>
<line x1="835" y1="328.4" x2="835" y2="330.9" stroke="#222" stroke-width="1.2"/>
<line x1="835" y1="341.9" x2="835" y2="344.4" stroke="#222" stroke-width="1.2"/>
<path d="M834.5,329.9 A14,14 0 0 0 822.5,342.6" fill="none" stroke="#222" stroke-width="0.9"/>
<line x1="835" y1="342.6" x2="822.5" y2="342.6" stroke="#222" stroke-width="1"/>
<line x1="751.5" y1="344.4" x2="751.5" y2="362.2" stroke="#111" stroke-width="1.5"/>
<path d="M769.6,344.4 A18,18 0 0 1 751.5,362.2" fill="none" stroke="#222" stroke-width="0.9"/>
<line x1="857.2" y1="344.4" x2="857.2" y2="362.2" stroke="#111" stroke-width="1.5"/>
<path d="M840.8,344.4 A16.6,16.6 0 0 0 857.2,362.2" fill="none" stroke="#222" stroke-width="0.9"/>
<line x1="778" y1="372" x2="796" y2="372" stroke="#222" stroke-width="1.6"/>
<line x1="815" y1="372" x2="832" y2="372" stroke="#222" stroke-width="1.6"/>
<line x1="801.6" y1="352" x2="801.6" y2="370" stroke="#222" stroke-width="1.4"/>
<line x1="808.1" y1="352" x2="808.1" y2="370" stroke="#222" stroke-width="1.4"/>
<polyline points="806.1,282.3 810.5,282.3 813.5,285.8 810.5,289.3 806.1,289.3" fill="none" stroke="#222" stroke-width="1"/>
<line x1="808.5" y1="283.3" x2="808.5" y2="288.3" stroke="#222" stroke-width="0.6"/>
<line x1="810.5" y1="283.3" x2="810.5" y2="288.3" stroke="#222" stroke-width="0.6"/>
<polyline points="806.1,299.2 810.5,299.2 813.5,302.7 810.5,306.2 806.1,306.2" fill="none" stroke="#222" stroke-width="1"/>
<line x1="808.5" y1="300.2" x2="808.5" y2="305.2" stroke="#222" stroke-width="0.6"/>
<line x1="810.5" y1="300.2" x2="810.5" y2="305.2" stroke="#222" stroke-width="0.6"/>
<path d="M803.4,251.6 H796.4 Q795.2,251.6 795.2,252.8 V258.8 Q795.2,260 796.4,260 H803.4" fill="none" stroke="#111" stroke-width="1.7"/>
<rect x="799.3" y="254" width="1.9" height="3.6" fill="#fff" stroke="#333" stroke-width="0.7"/>
<circle cx="799.9" cy="255.8" r="0.8" fill="#222"/>
<line x1="802.5" y1="253.1" x2="802.5" y2="258.5" stroke="#999" stroke-width="1"/>
<path d="M803.4,265.8 H796.4 Q795.2,265.8 795.2,267 V273 Q795.2,274.2 796.4,274.2 H803.4" fill="none" stroke="#111" stroke-width="1.7"/>
<rect x="799.3" y="268.2" width="1.9" height="3.6" fill="#fff" stroke="#333" stroke-width="0.7"/>
<circle cx="799.9" cy="270" r="0.8" fill="#222"/>
<line x1="802.5" y1="267.3" x2="802.5" y2="272.7" stroke="#999" stroke-width="1"/>
<path d="M806.9,251.6 H813.8 Q815,251.6 815,252.8 V258.8 Q815,260 813.8,260 H806.9" fill="none" stroke="#111" stroke-width="1.7"/>
<rect x="809.1" y="254" width="1.85" height="3.6" fill="#fff" stroke="#333" stroke-width="0.7"/>
<circle cx="810.35" cy="255.8" r="0.8" fill="#222"/>
<line x1="807.8" y1="253.1" x2="807.8" y2="258.5" stroke="#999" stroke-width="1"/>
<path d="M806.9,265.8 H813.8 Q815,265.8 815,267 V273 Q815,274.2 813.8,274.2 H806.9" fill="none" stroke="#111" stroke-width="1.7"/>
<rect x="809.1" y="268.2" width="1.85" height="3.6" fill="#fff" stroke="#333" stroke-width="0.7"/>
<circle cx="810.35" cy="270" r="0.8" fill="#222"/>
<line x1="807.8" y1="267.3" x2="807.8" y2="272.7" stroke="#999" stroke-width="1"/>
<circle cx="765.2" cy="266.4" r="14" fill="none" stroke="#444" stroke-width="1.1" stroke-dasharray="5.2 2.4"/>
<circle cx="840.8" cy="273.4" r="14" fill="none" stroke="#444" stroke-width="1.1" stroke-dasharray="5.2 2.4"/>
<rect x="826.6" y="213.8" width="8" height="7.4" fill="#fff" stroke="#111" stroke-width="1.8" rx="1.6"/>
<line x1="829" y1="217.5" x2="832" y2="217.5" stroke="#222" stroke-width="1.2"/>
<rect x="835" y="213.8" width="8" height="7.4" fill="#fff" stroke="#111" stroke-width="1.8" rx="1.6"/>
<line x1="837.5" y1="217.5" x2="840.5" y2="217.5" stroke="#222" stroke-width="1.2"/>
<path d="M826.5,201.3 C833,200.5 837,203 836.8,213" fill="none" stroke="#222" stroke-width="0.8"/>
<text x="795.5" y="195.4" font-size="7.6" text-anchor="start" fill="#1a1a1a" font-weight="bold" textLength="22.5" lengthAdjust="spacingAndGlyphs">BOTTLE</text>
<text x="795.5" y="204.2" font-size="7.6" text-anchor="start" fill="#1a1a1a" font-weight="bold" textLength="31" lengthAdjust="spacingAndGlyphs">FILLER, DF</text>
<text x="138.3" y="120.3" font-size="8.2" text-anchor="middle" fill="#111" font-weight="bold" textLength="27.4" lengthAdjust="spacingAndGlyphs">STORAGE</text>
<line x1="124.6" y1="121" x2="152" y2="121" stroke="#111" stroke-width="0.8"/>
<rect x="128.4" y="121.2" width="19.1" height="6.1" fill="none" stroke="#222" stroke-width="0.8"/>
<text x="130.95" y="295.9" font-size="8.2" text-anchor="middle" fill="#111" font-weight="bold" textLength="37.9" lengthAdjust="spacingAndGlyphs">DEITY AREA</text>
<line x1="112" y1="296.6" x2="149.9" y2="296.6" stroke="#111" stroke-width="0.8"/>
<rect x="120.9" y="296.8" width="19.4" height="6" fill="none" stroke="#222" stroke-width="0.8"/>
<text x="398" y="288.9" font-size="8.2" text-anchor="middle" fill="#111" font-weight="bold" textLength="46" lengthAdjust="spacingAndGlyphs">WORSHIP AREA</text>
<line x1="375" y1="289.6" x2="421" y2="289.6" stroke="#111" stroke-width="0.8"/>
<rect x="388" y="289.8" width="19" height="6" fill="none" stroke="#222" stroke-width="0.8"/>
<text x="137.9" y="475.9" font-size="8.2" text-anchor="middle" fill="#111" font-weight="bold" textLength="29" lengthAdjust="spacingAndGlyphs">STORAGE</text>
<line x1="123.4" y1="476.6" x2="152.4" y2="476.6" stroke="#111" stroke-width="0.8"/>
<rect x="128.5" y="476.8" width="18.9" height="6" fill="none" stroke="#222" stroke-width="0.8"/>
<text x="772.6" y="89.9" font-size="8.2" text-anchor="middle" fill="#111" font-weight="bold" textLength="49.2" lengthAdjust="spacingAndGlyphs">COVERED AREA</text>
<line x1="748" y1="90.6" x2="797.2" y2="90.6" stroke="#111" stroke-width="0.8"/>
<rect x="762.5" y="90.8" width="19" height="6" fill="none" stroke="#222" stroke-width="0.8"/>
<text x="641.3" y="138.9" font-size="8.2" text-anchor="middle" fill="#111" font-weight="bold" textLength="19.4" lengthAdjust="spacingAndGlyphs">OFFICE</text>
<line x1="631.6" y1="139.6" x2="651" y2="139.6" stroke="#111" stroke-width="0.8"/>
<rect x="632" y="140.4" width="18.5" height="5.7" fill="none" stroke="#222" stroke-width="0.8"/>
<text x="710.75" y="126.5" font-size="8.2" text-anchor="middle" fill="#111" font-weight="bold" textLength="30.3" lengthAdjust="spacingAndGlyphs">VESTIBULE</text>
<line x1="695.6" y1="127.2" x2="725.9" y2="127.2" stroke="#111" stroke-width="0.8"/>
<rect x="701.7" y="127.4" width="18.5" height="6" fill="none" stroke="#222" stroke-width="0.8"/>
<text x="800" y="135.1" font-size="8.2" text-anchor="middle" fill="#111" font-weight="bold" textLength="36.4" lengthAdjust="spacingAndGlyphs">SHOE ROOM</text>
<line x1="781.8" y1="135.8" x2="818.2" y2="135.8" stroke="#111" stroke-width="0.8"/>
<rect x="790.7" y="136" width="18.8" height="6" fill="none" stroke="#222" stroke-width="0.8"/>
<text x="709" y="193" font-size="8.2" text-anchor="middle" fill="#111" font-weight="bold" textLength="48" lengthAdjust="spacingAndGlyphs">WELCOME AREA</text>
<line x1="685" y1="193.7" x2="733" y2="193.7" stroke="#111" stroke-width="0.8"/>
<rect x="699.6" y="194.1" width="19" height="5.9" fill="none" stroke="#222" stroke-width="0.8"/>
<text x="712" y="281.5" font-size="8.2" text-anchor="middle" fill="#111" font-weight="bold" textLength="37.2" lengthAdjust="spacingAndGlyphs">CLASSROOM</text>
<line x1="693.4" y1="282.2" x2="730.6" y2="282.2" stroke="#111" stroke-width="0.8"/>
<rect x="702" y="282.8" width="19" height="6" fill="none" stroke="#222" stroke-width="0.8"/>
<text x="710.7" y="362.3" font-size="8.2" text-anchor="middle" fill="#111" font-weight="bold" textLength="34.6" lengthAdjust="spacingAndGlyphs">JAN / STOR</text>
<line x1="693.4" y1="363" x2="728" y2="363" stroke="#111" stroke-width="0.8"/>
<rect x="700.6" y="363.3" width="19.2" height="5.7" fill="none" stroke="#222" stroke-width="0.8"/>
<text x="764.35" y="300.9" font-size="8.2" text-anchor="middle" fill="#111" font-weight="bold" textLength="18.9" lengthAdjust="spacingAndGlyphs">WOMEN</text>
<line x1="754.9" y1="301.6" x2="773.8" y2="301.6" stroke="#111" stroke-width="0.8"/>
<rect x="755" y="301.6" width="18.5" height="6.4" fill="none" stroke="#222" stroke-width="0.8"/>
<text x="843.9" y="299" font-size="8.2" text-anchor="middle" fill="#111" font-weight="bold" textLength="11.4" lengthAdjust="spacingAndGlyphs">MEN</text>
<line x1="838.2" y1="299.7" x2="849.6" y2="299.7" stroke="#111" stroke-width="0.8"/>
<rect x="834.5" y="300.4" width="18.9" height="6.3" fill="none" stroke="#222" stroke-width="0.8"/>
<text x="714.1" y="412" font-size="8.2" text-anchor="middle" fill="#111" font-weight="bold" textLength="52.6" lengthAdjust="spacingAndGlyphs">WARMING KITCHEN</text>
<line x1="687.8" y1="412.7" x2="740.4" y2="412.7" stroke="#111" stroke-width="0.8"/>
<rect x="704.4" y="412.9" width="19.1" height="5.9" fill="none" stroke="#222" stroke-width="0.8"/>
<text x="769.9" y="475.7" font-size="8.2" text-anchor="middle" fill="#111" font-weight="bold" textLength="27.8" lengthAdjust="spacingAndGlyphs">STORAGE</text>
<line x1="756" y1="476.4" x2="783.8" y2="476.4" stroke="#111" stroke-width="0.8"/>
<rect x="760.4" y="476.8" width="18.9" height="6" fill="none" stroke="#222" stroke-width="0.8"/>
<text x="605.9" y="136.6" font-size="7.3" text-anchor="middle" fill="#111" font-weight="bold" textLength="66" lengthAdjust="spacingAndGlyphs" transform="rotate(-90 605.9 136.6)">2 HOUR FIRE BARRIER</text>
<text x="605.9" y="375.5" font-size="7.3" text-anchor="middle" fill="#111" font-weight="bold" textLength="66" lengthAdjust="spacingAndGlyphs" transform="rotate(-90 605.9 375.5)">2 HOUR FIRE BARRIER</text>
<line x1="169.5" y1="228.7" x2="613.6" y2="228.7" stroke="#6c6c6c" stroke-width="1"/>
<line x1="172.1" y1="231.3" x2="177.5" y2="226.1" stroke="#111" stroke-width="1.7"/>
<line x1="606.1" y1="231.3" x2="611.5" y2="226.1" stroke="#111" stroke-width="1.7"/>
<text x="392" y="226.4" font-size="8.4" text-anchor="middle" fill="#111" font-weight="bold" textLength="16" lengthAdjust="spacingAndGlyphs">77'-6"</text>
<line x1="174.8" y1="199.7" x2="174.8" y2="234.7" stroke="#6c6c6c" stroke-width="0.9"/>
<line x1="190.6" y1="88.5" x2="190.6" y2="511" stroke="#6c6c6c" stroke-width="1"/>
<line x1="187.9" y1="88.7" x2="193.3" y2="93.9" stroke="#111" stroke-width="1.7"/>
<line x1="187.9" y1="173.4" x2="193.3" y2="178.6" stroke="#111" stroke-width="1.7"/>
<line x1="187.9" y1="191.8" x2="193.3" y2="197" stroke="#111" stroke-width="1.7"/>
<line x1="187.9" y1="399.4" x2="193.3" y2="404.6" stroke="#111" stroke-width="1.7"/>
<line x1="187.9" y1="417.4" x2="193.3" y2="422.6" stroke="#111" stroke-width="1.7"/>
<line x1="187.9" y1="502.9" x2="193.3" y2="508.1" stroke="#111" stroke-width="1.7"/>
<line x1="177" y1="174.8" x2="196.5" y2="174.8" stroke="#6c6c6c" stroke-width="0.8"/>
<line x1="177" y1="177.2" x2="196.5" y2="177.2" stroke="#6c6c6c" stroke-width="0.8"/>
<line x1="180.5" y1="194.4" x2="193.5" y2="194.4" stroke="#6c6c6c" stroke-width="0.8"/>
<line x1="180.5" y1="402" x2="196" y2="402" stroke="#6c6c6c" stroke-width="0.8"/>
<line x1="177" y1="419.3" x2="196" y2="419.3" stroke="#6c6c6c" stroke-width="0.8"/>
<line x1="177" y1="421.9" x2="196" y2="421.9" stroke="#6c6c6c" stroke-width="0.8"/>
<text x="188.1" y="133.5" font-size="8.4" text-anchor="middle" fill="#111" font-weight="bold" textLength="16" lengthAdjust="spacingAndGlyphs" transform="rotate(-90 188.1 133.5)">15'-0"</text>
<text x="188.1" y="298.2" font-size="8.4" text-anchor="middle" fill="#111" font-weight="bold" textLength="16" lengthAdjust="spacingAndGlyphs" transform="rotate(-90 188.1 298.2)">37'-2"</text>
<text x="188.1" y="463.4" font-size="8.4" text-anchor="middle" fill="#111" font-weight="bold" textLength="16" lengthAdjust="spacingAndGlyphs" transform="rotate(-90 188.1 463.4)">15'-0"</text>
<polyline points="190.6,185.3 202.1,183.1 202.1,201.5" fill="none" stroke="#333" stroke-width="0.8"/>
<text x="199.6" y="192.8" font-size="8.4" text-anchor="middle" fill="#111" font-weight="bold" textLength="12" lengthAdjust="spacingAndGlyphs" transform="rotate(-90 199.6 192.8)">3'-0"</text>
<polyline points="190.6,410.2 208,409.1 208,428" fill="none" stroke="#333" stroke-width="0.8"/>
<text x="205.6" y="418.7" font-size="8.4" text-anchor="middle" fill="#111" font-weight="bold" textLength="13.5" lengthAdjust="spacingAndGlyphs" transform="rotate(-90 205.6 418.7)">3'-0"</text>
<line x1="100" y1="469" x2="177" y2="469" stroke="#6c6c6c" stroke-width="1"/>
<line x1="101.5" y1="471.6" x2="106.9" y2="466.4" stroke="#111" stroke-width="1.7"/>
<line x1="169.8" y1="471.6" x2="175.2" y2="466.4" stroke="#111" stroke-width="1.7"/>
<text x="138" y="466.4" font-size="8.4" text-anchor="middle" fill="#111" font-weight="bold" textLength="16" lengthAdjust="spacingAndGlyphs">12'-0"</text>
<text x="185.8" y="82" font-size="7.6" font-style="italic" font-weight="bold" text-anchor="middle" fill="#111">3</text>
<text x="190" y="78.4" font-size="6.6" font-style="italic" font-weight="bold" text-anchor="middle" fill="#111">6</text>
<text x="186" y="522.6" font-size="7.6" font-style="italic" font-weight="bold" text-anchor="middle" fill="#111">3</text>
<text x="190.2" y="519.1" font-size="6.6" font-style="italic" font-weight="bold" text-anchor="middle" fill="#111">6</text>
<text x="872.9" y="401.6" font-size="7.6" font-style="italic" font-weight="bold" text-anchor="middle" fill="#111">3</text>
<text x="876.6" y="398" font-size="6.6" font-style="italic" font-weight="bold" text-anchor="middle" fill="#111">6</text>
<line x1="190.6" y1="84" x2="190.6" y2="88.5" stroke="#6c6c6c" stroke-width="0.8"/>
<line x1="608.5" y1="126.5" x2="686" y2="126.5" stroke="#6c6c6c" stroke-width="1"/>
<line x1="608.9" y1="129.1" x2="614.3" y2="123.9" stroke="#111" stroke-width="1.7"/>
<line x1="677.8" y1="129.1" x2="683.2" y2="123.9" stroke="#111" stroke-width="1.7"/>
<text x="645.5" y="124.2" font-size="8.4" text-anchor="middle" fill="#111" font-weight="bold" textLength="16" lengthAdjust="spacingAndGlyphs">12'-0"</text>
<line x1="625.6" y1="108.4" x2="625.6" y2="172.8" stroke="#6c6c6c" stroke-width="1"/>
<line x1="622.9" y1="110.6" x2="628.3" y2="115.8" stroke="#111" stroke-width="1.7"/>
<line x1="622.9" y1="167.4" x2="628.3" y2="172.6" stroke="#111" stroke-width="1.7"/>
<text x="623" y="141" font-size="8.4" text-anchor="middle" fill="#111" font-weight="bold" textLength="16" lengthAdjust="spacingAndGlyphs" transform="rotate(-90 623 141)">10'-0"</text>
<line x1="766.3" y1="108.4" x2="766.3" y2="226" stroke="#6c6c6c" stroke-width="1"/>
<line x1="763.6" y1="110.9" x2="769" y2="116.1" stroke="#111" stroke-width="1.7"/>
<line x1="763.6" y1="151.7" x2="769" y2="156.9" stroke="#111" stroke-width="1.7"/>
<line x1="763.6" y1="220.2" x2="769" y2="225.4" stroke="#111" stroke-width="1.7"/>
<text x="763.7" y="133.4" font-size="8.4" text-anchor="middle" fill="#111" font-weight="bold" textLength="12.5" lengthAdjust="spacingAndGlyphs" transform="rotate(-90 763.7 133.4)">7'-0"</text>
<text x="763.7" y="188.1" font-size="8.4" text-anchor="middle" fill="#111" font-weight="bold" textLength="15" lengthAdjust="spacingAndGlyphs" transform="rotate(-90 763.7 188.1)">17'-0"</text>
<line x1="606" y1="262" x2="754" y2="262" stroke="#6c6c6c" stroke-width="1"/>
<line x1="608.6" y1="264.6" x2="614" y2="259.4" stroke="#111" stroke-width="1.7"/>
<line x1="671.1" y1="264.6" x2="676.5" y2="259.4" stroke="#111" stroke-width="1.7"/>
<line x1="746.5" y1="264.6" x2="751.9" y2="259.4" stroke="#111" stroke-width="1.7"/>
<text x="642.5" y="259.6" font-size="8.4" text-anchor="middle" fill="#111" font-weight="bold" textLength="14" lengthAdjust="spacingAndGlyphs">11'-0"</text>
<text x="711.5" y="259.6" font-size="8.4" text-anchor="middle" fill="#111" font-weight="bold" textLength="16" lengthAdjust="spacingAndGlyphs">13'-0"</text>
<line x1="688.6" y1="218.4" x2="688.6" y2="344" stroke="#6c6c6c" stroke-width="1"/>
<line x1="685.9" y1="221.4" x2="691.3" y2="226.6" stroke="#111" stroke-width="1.7"/>
<line x1="685.9" y1="336.9" x2="691.3" y2="342.1" stroke="#111" stroke-width="1.7"/>
<text x="686" y="281.4" font-size="8.4" text-anchor="middle" fill="#111" font-weight="bold" textLength="18" lengthAdjust="spacingAndGlyphs" transform="rotate(-90 686 281.4)">20'-7"</text>
<line x1="745" y1="323.2" x2="864.7" y2="323.2" stroke="#6c6c6c" stroke-width="1"/>
<line x1="746.5" y1="325.8" x2="751.9" y2="320.6" stroke="#111" stroke-width="1.7"/>
<line x1="800.9" y1="325.8" x2="806.3" y2="320.6" stroke="#111" stroke-width="1.7"/>
<line x1="803.4" y1="325.8" x2="808.8" y2="320.6" stroke="#111" stroke-width="1.7"/>
<line x1="858.1" y1="325.8" x2="863.5" y2="320.6" stroke="#111" stroke-width="1.7"/>
<text x="776.8" y="321" font-size="8.4" text-anchor="middle" fill="#111" font-weight="bold" textLength="13" lengthAdjust="spacingAndGlyphs">9'-6"</text>
<text x="833.8" y="321" font-size="8.4" text-anchor="middle" fill="#111" font-weight="bold" textLength="13.5" lengthAdjust="spacingAndGlyphs">9'-6"</text>
<line x1="801.1" y1="372" x2="801.1" y2="513" stroke="#6c6c6c" stroke-width="1"/>
<line x1="798.4" y1="373.4" x2="803.8" y2="378.6" stroke="#111" stroke-width="1.7"/>
<line x1="798.4" y1="441.6" x2="803.8" y2="446.8" stroke="#111" stroke-width="1.7"/>
<line x1="798.4" y1="505.4" x2="803.8" y2="510.6" stroke="#111" stroke-width="1.7"/>
<text x="798.8" y="410" font-size="8.4" text-anchor="middle" fill="#111" font-weight="bold" textLength="15.6" lengthAdjust="spacingAndGlyphs" transform="rotate(-90 798.8 410)">12'-0"</text>
<text x="798.8" y="476.1" font-size="8.4" text-anchor="middle" fill="#111" font-weight="bold" textLength="14.5" lengthAdjust="spacingAndGlyphs" transform="rotate(-90 798.8 476.1)">11'-0"</text>
<path d="M392.6,660.4 V649.6 H398.20000000000005 M392.6,654.7 H397.20000000000005 M400.8,649.6 V660.4 H406.6 M412.6,649.6 a4.6,5.4 0 1 0 0.01,0 Z M423.6,649.6 a4.6,5.4 0 1 0 0.01,0 Z M430.8,660.4 V649.6 H434.8 a2.9,2.7 0 0 1 0,5.4 H430.8 M434.40000000000003,655.1 L437.8,660.4 M445.2,660.4 V649.6 H447.8 a2.8,2.8 0 0 1 0,5.6 H445.2 M452.4,649.6 V660.4 H458.2 M459.6,660.4 L463.8,649.6 L468.0,660.4 M461.1,657.0 H466.5 M470.8,660.4 V649.6 L479.40000000000003,660.4 V649.6" fill="none" stroke="#111" stroke-width="1.55" stroke-linejoin="round" stroke-linecap="round"/>
<text x="421.2" y="674.8" font-size="8.2" text-anchor="middle" fill="#222" font-weight="bold" textLength="57.6" lengthAdjust="spacingAndGlyphs">SCALE : 1/8" = 1'-0"</text>
<line x1="338.6" y1="666" x2="644.5" y2="666" stroke="#444" stroke-width="1.1"/>
<rect x="361.3" y="663" width="165.2" height="2.3" fill="#555" stroke="none" stroke-width="0"/>
<rect x="558" y="663" width="64.9" height="2.3" fill="#555" stroke="none" stroke-width="0"/>
<circle cx="543.1" cy="655.2" r="17.2" fill="#fff" stroke="#111" stroke-width="1.2"/>
<line x1="521.2" y1="655.2" x2="565" y2="655.2" stroke="#111" stroke-width="1.2"/>
<line x1="543.1" y1="633" x2="543.1" y2="638.5" stroke="#111" stroke-width="1.2"/>
<line x1="543.1" y1="672" x2="543.1" y2="675" stroke="#111" stroke-width="1.2"/>
<polyline points="527.5,655.2 543.1,638.5 558.7,655.2" fill="none" stroke="#111" stroke-width="1.1"/>
<line x1="529.73" y1="652.81" x2="529.73" y2="655.2" stroke="#222" stroke-width="0.6"/>
<line x1="531.96" y1="650.43" x2="531.96" y2="655.2" stroke="#222" stroke-width="0.6"/>
<line x1="534.19" y1="648.04" x2="534.19" y2="655.2" stroke="#222" stroke-width="0.6"/>
<line x1="536.41" y1="645.66" x2="536.41" y2="655.2" stroke="#222" stroke-width="0.6"/>
<line x1="538.64" y1="643.27" x2="538.64" y2="655.2" stroke="#222" stroke-width="0.6"/>
<line x1="540.87" y1="640.89" x2="540.87" y2="655.2" stroke="#222" stroke-width="0.6"/>
<line x1="543.1" y1="638.5" x2="543.1" y2="655.2" stroke="#222" stroke-width="0.6"/>
<line x1="545.33" y1="640.89" x2="545.33" y2="655.2" stroke="#222" stroke-width="0.6"/>
<line x1="547.56" y1="643.27" x2="547.56" y2="655.2" stroke="#222" stroke-width="0.6"/>
<line x1="549.79" y1="645.66" x2="549.79" y2="655.2" stroke="#222" stroke-width="0.6"/>
<line x1="552.01" y1="648.04" x2="552.01" y2="655.2" stroke="#222" stroke-width="0.6"/>
<line x1="554.24" y1="650.43" x2="554.24" y2="655.2" stroke="#222" stroke-width="0.6"/>
<line x1="556.47" y1="652.81" x2="556.47" y2="655.2" stroke="#222" stroke-width="0.6"/>
<text x="543.3" y="665.3" font-size="6.6" text-anchor="middle" fill="#111" font-weight="bold" textLength="20" lengthAdjust="spacingAndGlyphs">NORTH</text>
<line x1="1000" y1="0" x2="1000" y2="675" stroke="#0a0a0a" stroke-width="2.2"/>
<polyline points="1005.5,-2 1005.5,286.2 1026,286.2" fill="none" stroke="#0a0a0a" stroke-width="2.1"/>
<polyline points="1026,292.2 1005.5,292.2 1005.5,448.3 1026,448.3" fill="none" stroke="#0a0a0a" stroke-width="2.1"/>
<polyline points="1026,454.2 1005.5,454.2 1005.5,677" fill="none" stroke="#0a0a0a" stroke-width="2.1"/>
<rect x="1007.5" y="104.7" width="22.5" height="86.6" fill="#fff" stroke="#8a8a8a" stroke-width="1.2"/>
<line x1="1008.6" y1="106" x2="1008.6" y2="190" stroke="#d0d0d0" stroke-width="1"/>
<circle cx="1040" cy="148" r="29" fill="none" stroke="#e2e2e2" stroke-width="1"/>
<circle cx="1040" cy="148" r="22" fill="none" stroke="#ececec" stroke-width="1"/>
<text x="1015.5" y="138.5" font-family="Liberation Serif, serif" font-style="italic" font-size="7.5" fill="#666" transform="rotate(-62 1015.5 138.5)">Bowe</text>
<text x="1015.6" y="55.6" font-size="13.5" text-anchor="start" fill="#555" font-weight="normal">S</text>
<ellipse cx="1022.6" cy="73.5" rx="1.6" ry="1.0" fill="#777"/>
<ellipse cx="1023.4" cy="83.2" rx="1.0" ry="1.3" fill="#a89a70"/>
<text x="1023" y="652.7" font-size="15.5" text-anchor="end" fill="#222" font-weight="normal" transform="rotate(-90 1023 652.7)">PLAN</text>
</svg>
</body></html>
